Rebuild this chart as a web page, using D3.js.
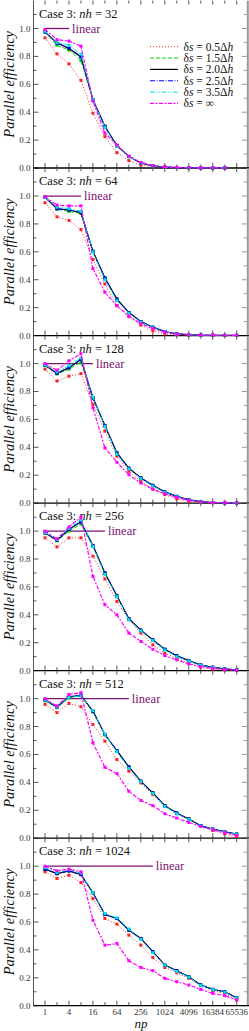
<!DOCTYPE html>
<html><head><meta charset="utf-8">
<script src="https://cdn.jsdelivr.net/npm/d3@7"></script>
<style>
html,body{margin:0;padding:0;background:#fff;}
</style></head>
<body><svg id="c" width="249" height="1031" font-family="'Liberation Serif', 'Times New Roman', Times, serif"></svg>
<script>
// ---- data ----
const npValues = [1,2,4,8,16,32,64,128,256,512,1024,2048,4096,8192,16384,32768,65536];
const xTickLabels = ["1","4","16","64","256","1024","4096","16384","65536"];
const yTickLabels = [0,0.2,0.4,0.6,0.8,1.0];
const panelNh = [32,64,128,256,512,1024];
const linearEnd = [4,8,16,32,128,512];
const seriesNames = ["0.5","1.5","2.0","2.5","3.5","∞"];

// efficiency per panel (nh = 32 ... 1024)
const ds05 = [
 [0.933,0.818,0.746,0.628,0.393,0.225,0.11,0.053,0.022,0.01,0.005,0.003,0.002,0.001,0.001,0.001],
 [0.952,0.851,0.825,0.760,0.545,0.37,0.215,0.135,0.075,0.035,0.012,0.005,0.003,0.002,0.001,0.001,0.001],
 [0.96,0.875,0.91,0.928,0.707,0.516,0.336,0.228,0.156,0.10,0.06,0.03,0.012,0.005,0.002,0.001,0.001],
 [0.952,0.887,0.952,0.952,0.82,0.657,0.496,0.365,0.269,0.185,0.125,0.089,0.053,0.024,0.01,0.005,0.002],
 [0.959,0.9,0.966,0.942,0.815,0.695,0.564,0.48,0.396,0.312,0.228,0.175,0.137,0.089,0.055,0.031,0.012],
 [0.96,0.912,0.936,0.883,0.768,0.625,0.585,0.506,0.434,0.346,0.274,0.236,0.196,0.143,0.107,0.088,0.041]
];
const ds15 = [
 [0.975,0.88,0.845,0.77,0.49,0.297,0.16,0.082,0.036,0.015,0.007,0.003,0.002,0.001,0.001,0.001],
 [0.99,0.905,0.89,0.875,0.60,0.41,0.26,0.165,0.10,0.058,0.028,0.012,0.006,0.003,0.002,0.001,0.001],
 [0.985,0.925,0.96,1.01,0.75,0.55,0.355,0.25,0.18,0.127,0.08,0.048,0.024,0.01,0.004,0.002,0.001],
 [0.985,0.93,1.0,1.05,0.89,0.70,0.535,0.372,0.29,0.22,0.153,0.106,0.072,0.04,0.024,0.012,0.005],
 [0.985,0.935,1.005,1.02,0.905,0.74,0.625,0.51,0.408,0.324,0.233,0.18,0.137,0.089,0.065,0.046,0.029],
 [0.98,0.945,0.965,0.94,0.81,0.655,0.625,0.54,0.48,0.387,0.29,0.25,0.207,0.148,0.117,0.1,0.057]
];
const ds20 = [
 [0.976,0.897,0.856,0.796,0.49,0.297,0.16,0.082,0.036,0.015,0.007,0.003,0.002,0.001,0.001,0.001],
 [0.993,0.909,0.90,0.88,0.604,0.412,0.261,0.165,0.10,0.06,0.029,0.012,0.006,0.003,0.002,0.001,0.001],
 [0.99,0.93,0.971,1.03,0.755,0.556,0.36,0.25,0.18,0.127,0.08,0.048,0.024,0.01,0.004,0.002,0.001],
 [0.988,0.935,1.012,1.067,0.897,0.70,0.537,0.372,0.29,0.22,0.153,0.106,0.072,0.04,0.024,0.012,0.005],
 [0.99,0.94,1.014,1.024,0.911,0.743,0.628,0.511,0.408,0.324,0.233,0.18,0.137,0.089,0.065,0.046,0.029],
 [0.979,0.947,0.967,0.94,0.81,0.654,0.625,0.542,0.482,0.387,0.291,0.251,0.208,0.148,0.117,0.1,0.057]
];
const ds25 = [
 [0.975,0.895,0.86,0.80,0.49,0.30,0.16,0.082,0.036,0.015,0.007,0.003,0.002,0.001,0.001,0.001],
 [0.99,0.91,0.90,0.885,0.605,0.412,0.261,0.165,0.10,0.06,0.029,0.012,0.006,0.003,0.002,0.001,0.001],
 [0.99,0.93,0.97,1.03,0.755,0.556,0.36,0.25,0.18,0.127,0.08,0.048,0.024,0.01,0.004,0.002,0.001],
 [0.988,0.935,1.012,1.067,0.897,0.70,0.537,0.372,0.29,0.22,0.153,0.106,0.072,0.04,0.024,0.012,0.005],
 [0.99,0.94,1.014,1.024,0.911,0.743,0.628,0.511,0.408,0.324,0.233,0.18,0.137,0.089,0.065,0.046,0.029],
 [0.979,0.947,0.967,0.94,0.81,0.654,0.625,0.542,0.482,0.387,0.291,0.251,0.208,0.148,0.117,0.1,0.057]
];
const ds35 = [
 [0.98,0.90,0.88,0.815,0.49,0.29,0.155,0.08,0.035,0.015,0.007,0.003,0.002,0.001,0.001,0.001],
 [0.99,0.92,0.91,0.89,0.60,0.40,0.25,0.16,0.095,0.056,0.027,0.011,0.005,0.003,0.002,0.001,0.001],
 [0.99,0.94,0.985,1.04,0.76,0.55,0.35,0.245,0.175,0.122,0.077,0.045,0.022,0.009,0.004,0.002,0.001],
 [0.99,0.94,1.02,1.08,0.89,0.69,0.53,0.365,0.285,0.215,0.148,0.10,0.068,0.038,0.022,0.011,0.005],
 [0.99,0.94,1.01,1.02,0.915,0.745,0.62,0.50,0.405,0.32,0.228,0.175,0.134,0.087,0.063,0.045,0.028],
 [0.99,0.955,0.975,0.95,0.81,0.66,0.63,0.55,0.475,0.38,0.29,0.245,0.205,0.145,0.115,0.097,0.055]
];
const dsInf = [
 [0.993,0.92,0.91,0.873,0.48,0.25,0.165,0.085,0.04,0.018,0.008,0.004,0.002,0.001,0.001,0.001],
 [0.995,0.935,0.93,0.93,0.48,0.31,0.213,0.14,0.085,0.05,0.025,0.01,0.005,0.003,0.002,0.001,0.001],
 [1.0,0.952,1.02,1.07,0.683,0.396,0.293,0.204,0.144,0.10,0.067,0.04,0.02,0.008,0.003,0.002,0.001],
 [1.0,0.945,1.03,1.1,0.676,0.472,0.40,0.269,0.209,0.153,0.108,0.077,0.048,0.029,0.017,0.008,0.003],
 [1.0,0.947,1.03,1.043,0.683,0.508,0.463,0.336,0.271,0.233,0.175,0.144,0.113,0.084,0.06,0.04,0.02],
 [1.0,0.967,0.979,0.96,0.613,0.434,0.446,0.322,0.274,0.251,0.196,0.172,0.148,0.117,0.088,0.072,0.041]
];

// ---- styles ----
const seriesData = [ds05, ds15, ds20, ds25, ds35, dsInf];
const colors = ["#ff2020","#00dd00","#000000","#0000ff","#00e0e8","#ff00ff"];
const dashes = ["1,2","4,2",null,"5,1.5,1,1.5","5,1.5,1,1.5,1,1.5","4,1.5,2,1.5"];
const widths = [1,1,1.2,1,1,1.2];

const svg = d3.select("#c");
const x = d3.scaleLog().base(2).domain([1,65536]).range([45,236.7]);
const panelStep = 167.54, firstZero = 168, unit = 139.5;
const xL = 33.5, xR = 247.8;

panelNh.forEach((nh, k) => {
  const y0 = firstZero + panelStep*k;
  const y = d3.scaleLinear().domain([0,1.2]).range([y0, y0 - 1.2*unit]);
  const g = svg.append("g");
  // frame
  g.append("line").attr("x1",xL).attr("x2",xL).attr("y1",y(1.2)).attr("y2",y(0)).attr("stroke","#555").attr("stroke-width",1);
  g.append("line").attr("x1",xR).attr("x2",xR).attr("y1",y(1.2)).attr("y2",y(0)).attr("stroke","#999").attr("stroke-width",2);
  // y ticks
  const yt = d3.range(0,12).map(i=>i/10);
  yt.forEach(v=>{
    const major = Math.round(v*10)%2===0;
    g.append("line").attr("x1",xL).attr("x2",xL+(major?5:3)).attr("y1",y(v)).attr("y2",y(v)).attr("stroke","#555");
    g.append("line").attr("x1",xR-1).attr("x2",xR-1-(major?5:3)).attr("y1",y(v)).attr("y2",y(v)).attr("stroke","#999");
  });
  g.selectAll("text.yl").data(yTickLabels).join("text")
    .attr("x",30.5).attr("y",d=>y(d)+3).attr("text-anchor","end")
    .attr("font-size",9).attr("fill","#333").text(d=>d.toFixed(1));
  // x ticks bottom (up) and top (down)
  npValues.forEach((n,i)=>{
    const major = i%2===0;
    g.append("line").attr("x1",x(n)).attr("x2",x(n)).attr("y1",y(0)).attr("y2",y(0)-(major?5:3.5)).attr("stroke","#555");
    g.append("line").attr("x1",x(n)).attr("x2",x(n)).attr("y1",y(1.2)).attr("y2",y(1.2)+(major?4:3)).attr("stroke","#555");
  });
  // zero line
  g.append("line").attr("x1",xL).attr("x2",249).attr("y1",y(0)).attr("y2",y(0)).attr("stroke","#000").attr("stroke-width",1.3);
  // title
  const t = g.append("text").attr("x",39).attr("y",y(1.2)+17).attr("font-size",12.5).attr("fill","#111");
  t.append("tspan").text("Case 3: ");
  t.append("tspan").attr("font-style","italic").text("nh");
  t.append("tspan").text(" = "+nh);
  // y label
  g.append("text").attr("transform",`translate(14,${y(0.6)}) rotate(-90)`)
    .attr("text-anchor","middle").attr("font-size",14.5).attr("font-style","italic").attr("fill","#111")
    .text("Parallel efficiency");
  // linear
  g.append("line").attr("x1",x(1)).attr("x2",x(linearEnd[k])).attr("y1",y(1)).attr("y2",y(1))
    .attr("stroke","#7a1070").attr("stroke-width",1.3);
  g.append("text").attr("x",x(linearEnd[k])+3).attr("y",y(1)+4).attr("font-size",12.5).attr("fill","#7a1070").text("linear");
  // series
  seriesData.forEach((ds, s)=>{
    const vals = ds[k];
    const pts = vals.map((v,i)=>[npValues[i], v]);
    const line = d3.line().x(d=>x(d[0])).y(d=>y(d[1]));
    g.append("path").attr("d",line(pts)).attr("fill","none").attr("stroke",colors[s])
      .attr("stroke-width",widths[s]).attr("stroke-dasharray",dashes[s]);
    g.selectAll(null).data(pts).join("rect")
      .attr("x",d=>x(d[0])-1.5).attr("y",d=>y(d[1])-1.5).attr("width",3).attr("height",3)
      .attr("fill",colors[s]);
  });
  // legend in first panel
  if(k===0){
    seriesNames.forEach((nm,s)=>{
      const ly = 46.7 + 11.35*s;
      g.append("line").attr("x1",150).attr("x2",178).attr("y1",ly).attr("y2",ly)
        .attr("stroke",colors[s]).attr("stroke-width",widths[s]).attr("stroke-dasharray",dashes[s]);
      const lt = g.append("text").attr("x",183.5).attr("y",ly+4).attr("font-size",11.5).attr("fill","#111");
      lt.append("tspan").text("δ");
      lt.append("tspan").attr("font-style","italic").text("s");
      if(nm==="∞"){ lt.append("tspan").text(" = ∞"); }
      else { lt.append("tspan").text(" = "+nm+"Δ"); lt.append("tspan").attr("font-style","italic").text("h"); }
    });
  }
  // x tick labels on last panel
  if(k===panelNh.length-1){
    g.selectAll("text.xl").data(xTickLabels).join("text")
      .attr("x",d=>x(+d)).attr("y",y(0)+8.8).attr("text-anchor","middle")
      .attr("font-size",9).attr("fill","#333").text(d=>d);
    g.append("text").attr("x",141).attr("y",1027.8).attr("text-anchor","middle")
      .attr("font-size",13).attr("font-style","italic").attr("fill","#111").text("np");
  }
});
</script></body></html>
